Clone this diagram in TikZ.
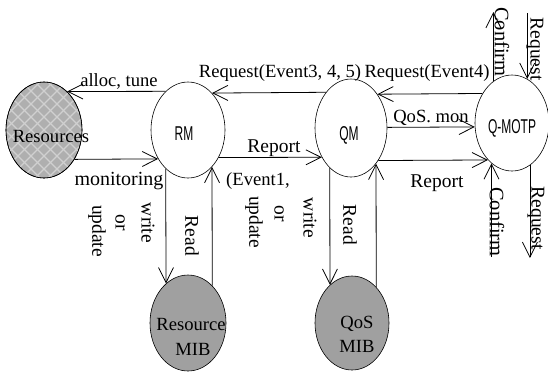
\documentclass[tikz,border=0pt]{standalone}
\usepackage{fontspec}
\setmainfont{Liberation Serif}
\newfontfamily\gothic[FakeStretch=0.6]{Liberation Sans}
\usetikzlibrary{arrows.meta,shapes.geometric}
\definecolor{resgray}{HTML}{AFAFAF}
\definecolor{hatchgray}{HTML}{D0D0D0}
\definecolor{mibgray}{HTML}{A0A0A0}
\begin{document}
\begin{tikzpicture}[x=1pt,y=-1pt,
  every node/.style={font=\fontsize{18.6}{25}\selectfont, inner sep=0pt},
  blob/.style={ellipse, draw, line width=0.6pt, inner sep=0pt},
  conn/.style={line width=0.8pt, -{Straight Barb[length=15pt,width=15pt,line width=0.8pt]}},
  vlbl/.style={rotate=-90, font=\fontsize{19.5}{25}\selectfont},
  sanslbl/.style={font=\gothic\fontsize{20}{24}\selectfont, anchor=base},
  hatchline/.style={draw=hatchgray, line width=1.1pt}
]
\useasboundingbox (0,0) rectangle (548,376);
\fill[white] (0,0) rectangle (548,376);

% ellipses
\node[blob, fill=resgray, minimum width=76pt, minimum height=96pt] (Res) at (44,130) {};
\begin{scope}
  \clip (44,130) ellipse[x radius=37.6pt, y radius=47.6pt];
  \foreach \i in {-12,...,12} {
    \path[hatchline] (44+\i*13-70,60) -- (44+\i*13+70,200);
    \path[hatchline] (44+\i*13+70,60) -- (44+\i*13-70,200);
  }
\end{scope}
\draw[line width=0.6pt] (Res.center) ellipse[x radius=38pt, y radius=48pt];
\node[blob, minimum width=74pt, minimum height=96pt] (RM) at (188,130) {};
\node[blob, minimum width=72pt, minimum height=98pt] (QM) at (351,128) {};
\node[blob, minimum width=74pt, minimum height=96pt] (QP) at (512,123) {};
\node[blob, fill=mibgray, minimum width=76pt, minimum height=96pt] (RMIB) at (188,323) {};
\node[blob, fill=mibgray, minimum width=74pt, minimum height=94pt] (QMIB) at (352,323) {};

% node texts
\node[anchor=base] (tRes) at (51,142) {Resources};
\node[sanslbl] (tRM) at (184,140) {RM};
\node[sanslbl] (tQM) at (349,140) {QM};
\node[sanslbl] (tQP) at (512,133) {Q-MOTP};
\node[anchor=base] (tRMIB1) at (191,330) {Resource};
\node[anchor=base] (tRMIB2) at (193,355) {MIB};
\node[anchor=base] (tQMIB1) at (357,328) {QoS};
\node[anchor=base] (tQMIB2) at (357,352) {MIB};

% free ends
\coordinate (ct) at (493,12);
\coordinate (rt) at (527,13);
\coordinate (cb) at (492,257);
\coordinate (rb) at (530,258);

% connectors
\draw[conn] (RM.120.7) -- (Res.59.3);
\draw[conn] (Res.316.3) -- (RM.224.5);
\draw[conn] (RM.240.3) -- (RMIB.119.4);
\draw[conn] (RMIB.57.2) -- (RM.303.3);
\draw[conn] (QM.125.8) -- (RM.57.5);
\draw[conn] (RM.318.6) -- (QM.225);
\draw[conn] (QM.242.2) -- (QMIB.120.2);
\draw[conn] (QMIB.56.2) -- (QM.305.3);
\draw[conn] (QP.135.5) -- (QM.52.7);
\draw[conn] (QM.1.6) -- (QP.186.2);
\draw[conn] (QM.310.5) -- (QP.237.5);
\draw[conn] (QP.114.8) -- (QP.114.8 |- ct);
\draw[conn] (QP.71.1 |- rt) -- (QP.71.1);
\draw[conn] (QP.243.7 |- cb) -- (QP.243.7);
\draw[conn] (QP.293.3) -- (QP.293.3 |- rb);

% labels
\node[anchor=base] (lalloc) at (119,86) {alloc, tune};
\node[anchor=base, font=\fontsize{20}{25}\selectfont] (lmon) at (119,185) {monitoring};
\node[anchor=base] (lreq345) at (280,77) {Request(Event3, 4, 5)};
\node[anchor=base] (lreq4) at (427,77) {Request(Event4)};
\node[anchor=base, font=\fontsize{19.5}{25}\selectfont] (lrep1) at (274,152) {Report};
\node[anchor=base] (lev1) at (258,185) {(Event1,};
\node[anchor=base] (lqos) at (431,122) {QoS. mon};
\node[anchor=base, font=\fontsize{19.5}{25}\selectfont] (lrep2) at (437,187) {Report};

\node[vlbl] (lwrite1) at (148,223) {write};
\node[vlbl] (lor1) at (120,223) {or};
\node[vlbl] (lupd1) at (97,231) {update};
\node[vlbl] (lread1) at (192,236) {Read};
\node[vlbl] (lupd2) at (254,222) {update};
\node[vlbl] (lor2) at (279,214) {or};
\node[vlbl] (lwrite2) at (310,218) {write};
\node[vlbl] (lread2) at (350,225) {Read};
\node[vlbl, font=\fontsize{20.5}{25}\selectfont] (lconf1) at (502,42) {Confirm};
\node[vlbl] (lreqt) at (535,49) {Request};
\node[vlbl, font=\fontsize{20.5}{25}\selectfont] (lconf2) at (497,222) {Confirm};
\node[vlbl] (lreqb) at (536,218) {Request};
\end{tikzpicture}
\end{document}
